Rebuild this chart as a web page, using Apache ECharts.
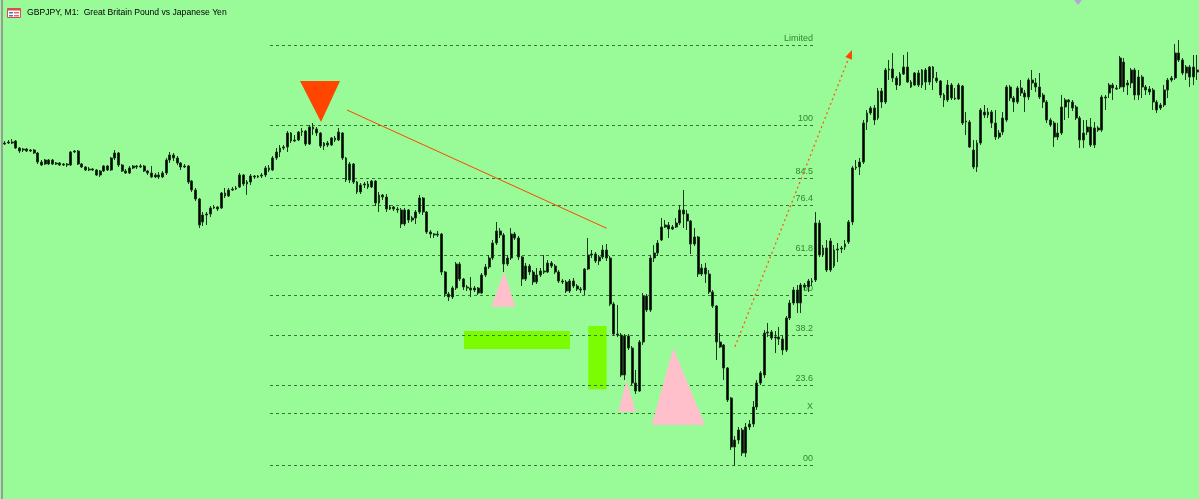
<!DOCTYPE html>
<html>
<head>
<meta charset="utf-8">
<script src="https://cdn.jsdelivr.net/npm/echarts@6.0.0/dist/echarts.min.js"></script>
<style>
html,body{margin:0;padding:0;background:#98FB98;}
#chart{width:1199px;height:499px;}
</style>
</head>
<body>
<div id="chart"></div>
<script>
// GBPJPY M1 candles. Prices are given in points (0.001 JPY) above 187.000
const openPts = [
322,322,323,324,317,315,316,314,315,312, 303,305,301,305,301,302,300,301,300,313,
314,301,298,295,296,295,290,294,299,295, 307,312,300,294,292,297,299,298,299,294,
292,288,290,288,292,305,310,307,302,298, 299,284,275,266,243,250,251,257,258,257,
272,269,275,276,278,290,281,283,289,288, 289,290,297,295,307,313,317,318,332,324,
325,333,334,321,338,336,332,319,322,320, 327,325,332,307,285,301,283,273,280,281,
278,284,262,270,268,256,258,256,255,241, 255,245,247,253,267,253,233,231,230,231,
193,171,168,177,201,186,178,177,175,177, 172,190,198,207,222,234,230,201,207,231,
227,208,186,199,193,183,190,194,193,202, 199,193,184,183,174,184,179,176,175,196,
210,211,204,208,215,207,161,131,130,90, 129,117,82,74,123,169,155,207,212,225,
238,240,236,238,242,255,251,244,221,228, 191,197,191,173,159,123,120,97,67,18,
25,35,12,38,41,58,82,90,132,133, 127,128,126,115,147,162,175,162,180,178,
184,185,242,210,217,195,215,216,216,218, 223,243,297,298,303,343,352,357,347,374,
363,395,396,387,380,391,398,383,380,392, 380,395,383,398,387,384,370,365,380,367,
366,379,344,343,315,298,322,353,350,353, 342,328,333,345,378,367,363,377,372,368,
385,382,378,370,363,345,342,328,332,358, 365,363,358,347,325,333,338,320,337,335,
368,372,380,377,378,403,380,382,395,370, 388,378,376,375,363,357,360,375,385,387,
412,405,392,398,388,395];
const closePts = [
321,323,322,317,314,316,314,315,312,303, 300,301,305,301,302,300,301,300,313,314,
301,298,295,296,295,290,294,299,295,307, 312,300,294,292,297,299,298,299,294,292,
288,290,288,292,305,310,307,302,298,299, 283,275,266,240,250,251,257,258,256,272,
269,275,276,277,290,281,283,289,288,289, 290,297,295,307,313,317,318,332,324,325,
333,334,321,338,336,332,319,322,320,327, 325,333,307,285,301,283,273,280,281,278,
284,262,270,268,256,258,256,255,241,255, 245,247,253,267,253,233,231,230,231,193,
171,168,177,201,186,178,177,175,177,172, 190,198,207,222,234,230,201,207,231,227,
208,186,199,193,183,190,194,193,202,199, 193,184,183,174,184,179,176,175,196,210,
211,204,208,215,207,161,131,130,90,129, 117,82,74,123,169,155,207,212,222,238,
240,236,238,242,255,251,244,221,228,191, 197,191,173,159,123,118,97,65,18,25,
35,12,38,41,58,82,92,132,133,127, 128,126,115,147,162,175,162,180,178,184,
183,242,210,217,195,224,199,215,217,221, 243,297,298,303,342,352,357,345,374,363,
395,396,387,380,391,398,383,378,392,380, 395,383,398,387,384,370,365,380,367,366,
380,342,343,318,298,322,355,350,353,342, 328,332,347,378,367,363,377,372,368,385,
382,378,368,363,345,340,328,332,358,365, 363,357,347,325,332,338,320,337,335,368,
367,380,377,376,407,378,382,395,370,388, 378,375,373,363,355,360,375,385,387,412,
405,392,398,388,398,393];
const lowPts = [
320,321,321,316,312,313,313,313,311,301, 299,300,300,300,300,299,299,298,299,312,
300,297,294,294,294,289,288,293,294,294, 305,298,293,291,291,296,296,297,293,290,
287,287,286,287,290,302,304,300,295,297, 281,273,264,237,239,240,248,256,254,256,
267,268,274,275,277,279,270,280,286,287, 287,288,293,294,305,308,315,313,322,323,
324,329,319,320,330,329,317,315,318,319, 323,324,305,283,282,281,271,271,277,276,
277,259,253,265,253,255,254,252,237,239, 242,243,241,251,250,231,227,227,228,190,
168,164,166,175,184,175,174,168,173,170, 171,188,196,205,220,227,193,199,205,225,
205,179,184,190,180,181,188,191,192,197, 191,182,181,172,172,177,174,172,170,195,
207,202,200,206,204,159,129,128,88,85, 115,80,71,73,120,153,153,203,209,224,
237,227,235,237,240,237,235,211,219,188, 189,182,171,157,105,117,85,63,15,-1,
21,9,8,35,38,55,80,87,128,125, 112,120,110,113,145,160,152,152,175,173,
179,183,208,208,193,193,197,203,212,215, 221,240,295,290,301,335,350,340,345,357,
361,385,383,375,379,390,382,377,379,378, 377,375,380,375,382,367,358,363,365,365,
365,340,330,317,296,293,320,347,347,337, 325,326,330,343,364,353,361,369,353,365,
375,373,366,357,342,338,318,325,330,345, 347,354,345,317,317,330,318,317,333,333,
355,367,365,375,376,373,370,377,365,365, 367,370,370,355,352,355,358,367,383,385,
403,390,385,378,380,385];
const highPts = [
324,325,326,325,318,317,317,316,316,313, 305,306,306,306,303,303,302,302,314,315,
315,302,299,298,297,296,295,300,300,308, 315,313,301,296,299,300,300,301,300,295,
299,292,293,294,307,313,312,309,303,301, 300,285,277,267,253,253,259,260,259,273,
277,277,278,279,292,291,285,291,290,290, 292,299,300,309,317,320,320,334,333,330,
334,337,335,340,342,338,333,323,324,328, 329,337,333,308,303,302,284,282,283,284,
285,285,273,271,271,260,259,258,257,257, 256,249,255,270,268,254,235,232,234,232,
194,173,179,203,203,187,180,188,179,178, 192,201,210,225,243,237,232,210,237,233,
229,209,202,201,195,197,197,210,205,204, 201,195,186,185,186,187,181,178,197,227,
215,213,210,220,221,209,163,160,132,131, 131,119,95,125,172,171,210,220,225,247,
245,243,240,247,260,275,255,245,237,229, 201,202,195,175,160,132,121,98,68,29,
38,37,42,45,64,85,94,135,142,135, 134,138,130,149,165,178,180,182,182,186,
187,253,245,220,225,227,220,222,219,225, 245,299,305,307,345,355,359,360,377,377,
397,405,412,389,393,410,413,385,393,395, 396,397,399,399,393,385,372,385,382,377,
382,380,353,345,325,325,357,360,357,355, 355,335,353,380,380,369,379,385,375,387,
395,387,392,372,365,347,344,342,370,367, 366,365,360,349,345,345,347,343,339,370,
370,382,382,380,409,407,385,397,397,395, 390,380,379,377,365,362,380,387,389,421,
425,407,400,400,410,410];

// Fibonacci grid (swing low / swing high in points), levels and their labels
const fibLowPts = 0;
const fibHighPts = 340;
const fibPct = [123.6, 100, 84.5, 76.4, 61.8, 50, 38.2, 23.6, 15.2, 0];
const fibLabels = ['Limited', '100', '84.5', '76.4', '61.8', '50', '38.2', '23.6', 'X', '00'];
const fibBarRange = [72.28, 220.83];

// Drawn objects, anchored in (bar index, points)
const redTriangle = [[80.46, 384, 91.36, 384, 86.18, 343]];
const pinkTriangles = [
  [132.52, 158.3, 139.14, 158.3, 136.14, 193.3],
  [167.22, 53.3, 171.96, 53.3, 169.5, 85],
  [176.33, 40, 190.85, 40, 182.2, 116.7]
];
const greenZones = [[125.16, 154.05, 116, 134], [159.04, 164.05, 75.7, 139]];
const trendLine = [[93.27, 355, 164.05, 236.7]];
const targetArrow = [[199.02, 118.3, 230.9, 415]];

const categories = openPts.map((_, i) => 'bar' + i);
const candles = categories.map((_, i) => [openPts[i], closePts[i], lowPts[i], highPts[i]]);
const fibData = fibPct.map((p, k) => [fibBarRange[0], fibBarRange[1], fibLowPts + p / 100 * (fibHighPts - fibLowPts), k]);

function triRender(color) {
  return function (params, api) {
    const pts = [0, 2, 4].map(k => api.coord([api.value(k), api.value(k + 1)]));
    return { type: 'polygon', shape: { points: pts }, style: { fill: color } };
  };
}

const chart = echarts.init(document.getElementById('chart'), null, { renderer: 'canvas' });
chart.setOption({
  animation: false,
  backgroundColor: '#98FB98',
  grid: { left: 3, right: 0, top: 23, bottom: 0 },
  xAxis: [
    { type: 'category', data: categories, show: false, boundaryGap: true },
    { type: 'value', min: -0.5, max: categories.length - 0.5, show: false }
  ],
  yAxis: { type: 'value', min: -34, max: 442, show: false },
  series: [
    {
      type: 'custom', xAxisIndex: 1, z: 1, silent: true,
      dimensions: ['x0', 'x1', 'y0', 'y1'], encode: { x: [0, 1], y: [2, 3] },
      data: greenZones,
      renderItem: function (params, api) {
        const a = api.coord([api.value(0), api.value(3)]);
        const b = api.coord([api.value(1), api.value(2)]);
        return { type: 'rect', shape: { x: a[0], y: a[1], width: b[0] - a[0], height: b[1] - a[1] }, style: { fill: '#7CFC00' } };
      }
    },
    {
      type: 'custom', xAxisIndex: 1, z: 2, silent: true,
      dimensions: ['xs', 'xe', 'lvl', 'k'], encode: { x: [0, 1], y: 2 },
      data: fibData,
      renderItem: function (params, api) {
        const a = api.coord([api.value(0), api.value(2)]);
        const b = api.coord([api.value(1), api.value(2)]);
        const y = Math.round(a[1]) + 0.5;
        return {
          type: 'group', children: [
            { type: 'line', shape: { x1: a[0], y1: y, x2: b[0], y2: y }, style: { stroke: '#357535', lineWidth: 1, lineDash: [3, 3] } },
            { type: 'text', style: { text: fibLabels[api.value(3)], x: b[0] - 2, y: y - 2, align: 'right', verticalAlign: 'bottom', fill: '#2f882f', font: '9px "Liberation Sans", Arial, sans-serif' } }
          ]
        };
      }
    },
    {
      type: 'custom', xAxisIndex: 1, z: 3, silent: true,
      dimensions: ['x1', 'y1', 'x2', 'y2', 'x3', 'y3'], encode: { x: [0, 2, 4], y: [1, 3, 5] },
      data: pinkTriangles, renderItem: triRender('#FFC0CB')
    },
    {
      type: 'custom', xAxisIndex: 1, z: 3, silent: true,
      dimensions: ['x1', 'y1', 'x2', 'y2', 'x3', 'y3'], encode: { x: [0, 2, 4], y: [1, 3, 5] },
      data: redTriangle, renderItem: triRender('#FF4500')
    },
    {
      type: 'custom', xAxisIndex: 1, z: 3, silent: true,
      dimensions: ['x0', 'y0', 'x1', 'y1'], encode: { x: [0, 2], y: [1, 3] },
      data: trendLine,
      renderItem: function (params, api) {
        const a = api.coord([api.value(0), api.value(1)]);
        const b = api.coord([api.value(2), api.value(3)]);
        return { type: 'line', shape: { x1: a[0], y1: a[1], x2: b[0], y2: b[1] }, style: { stroke: '#FF4500', lineWidth: 1 } };
      }
    },
    {
      type: 'custom', xAxisIndex: 1, z: 3, silent: true,
      dimensions: ['x0', 'y0', 'x1', 'y1'], encode: { x: [0, 2], y: [1, 3] },
      data: targetArrow,
      renderItem: function (params, api) {
        const a = api.coord([api.value(0), api.value(1)]);
        const b = api.coord([api.value(2), api.value(3)]);
        const dx = b[0] - a[0], dy = b[1] - a[1];
        const len = Math.sqrt(dx * dx + dy * dy);
        const ux = dx / len, uy = dy / len, nx = -uy, ny = ux;
        const L = 9, W = 3.5;
        const base = [b[0] - ux * L, b[1] - uy * L];
        return {
          type: 'group', children: [
            { type: 'line', shape: { x1: a[0], y1: a[1], x2: base[0], y2: base[1] }, style: { stroke: '#FF5a1a', lineWidth: 1.3, lineDash: [2, 3] } },
            { type: 'polygon', shape: { points: [b, [base[0] + nx * W, base[1] + ny * W], [base[0] - nx * W, base[1] - ny * W]] }, style: { fill: '#FF4500' } }
          ]
        };
      }
    },
    {
      type: 'candlestick', xAxisIndex: 0, z: 4, silent: true,
      barWidth: 2.4,
      data: candles,
      itemStyle: {
        color: '#000000', color0: '#000000',
        borderColor: '#1c3a1c', borderColor0: '#1c3a1c', borderColorDoji: '#1c3a1c',
        borderWidth: 1
      }
    }
  ],
  graphic: [
    { type: 'rect', left: 1, top: 0, shape: { width: 2, height: 499 }, style: { fill: '#9a9a9a' }, silent: true },
    { type: 'rect', shape: { x: 7.5, y: 8.5, width: 13, height: 9 }, style: { fill: '#ffffff', stroke: '#dd4a4a', lineWidth: 1 }, silent: true },
    { type: 'rect', shape: { x: 7.5, y: 8.5, width: 13, height: 2 }, style: { fill: '#dd4a4a' }, silent: true },
    { type: 'rect', shape: { x: 9, y: 12, width: 4, height: 1.5 }, style: { fill: '#4f74d0' }, silent: true },
    { type: 'rect', shape: { x: 14, y: 12, width: 5, height: 1.5 }, style: { fill: '#e06a6a' }, silent: true },
    { type: 'rect', shape: { x: 9, y: 15, width: 4, height: 1.5 }, style: { fill: '#4f74d0' }, silent: true },
    { type: 'rect', shape: { x: 14, y: 15, width: 5, height: 1.5 }, style: { fill: '#e06a6a' }, silent: true },
    { type: 'text', left: 27, top: 8, style: { text: 'GBPJPY, M1:  Great Britain Pound vs Japanese Yen', font: '8.6px "Liberation Sans", Arial, sans-serif', fill: '#000000' }, silent: true },
    { type: 'polygon', shape: { points: [[1074, 0], [1082, 0], [1078, 5]] }, style: { fill: '#b9a3dc' }, silent: true }
  ]
});
</script>
</body>
</html>
